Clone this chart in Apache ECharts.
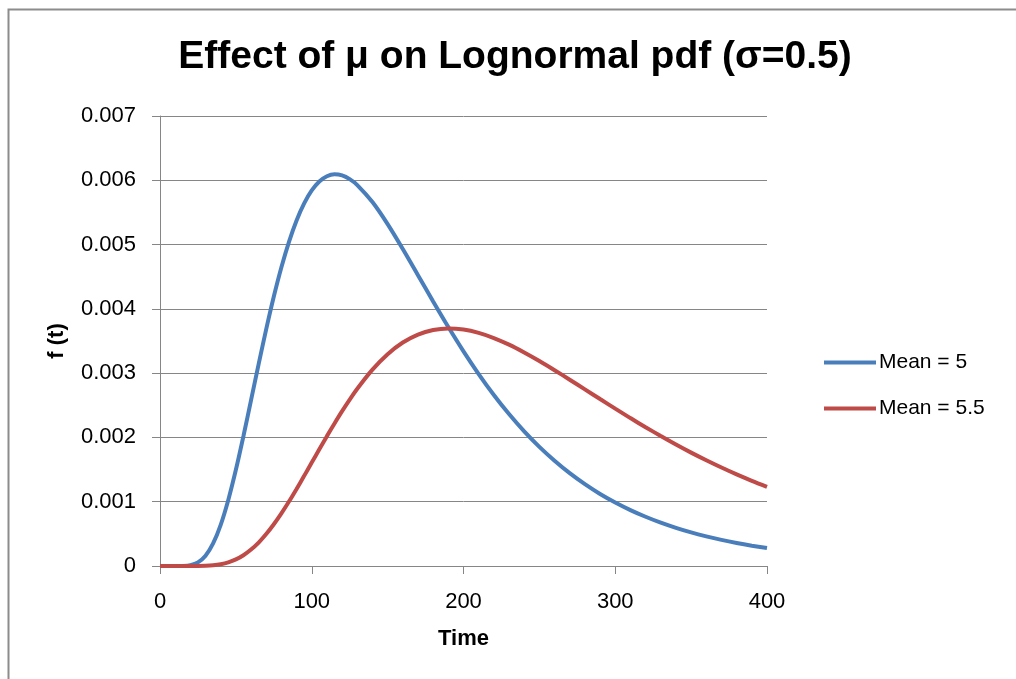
<!DOCTYPE html>
<html>
<head>
<meta charset="utf-8">
<script src="https://cdn.jsdelivr.net/npm/echarts@6/dist/echarts.min.js"></script>
<style>html,body{margin:0;padding:0;background:#fff;}#c{width:1016px;height:679px;}</style>
</head>
<body>
<div id="c"></div>
<script>
var times = [0,5,10,15,20,25,30,35,40,45,50,55,60,65,70,75,80,85,90,95,100,105,110,115,120,125,130,
  140,150,160,170,180,190,200,210,220,230,240,250,260,270,280,290,300,310,320,330,340,350,360,370,380,390,400];
var mean5 = [0,0,0.00000004,0.0000015,0.0000129,0.0000560,0.000160,0.000351,0.000641,0.001028,0.001496,0.002022,0.002579,0.003140,
  0.003684,0.004191,0.004647,0.005043,0.005375,0.005641,0.005842,0.005981,0.006062,0.006092,0.006075,0.006018,0.005926,
  0.005661,0.005318,0.004931,0.004524,0.004115,0.003717,0.003339,
  0.002986,0.002660,0.002363,0.002094,0.001853,0.001637,0.001444,0.001273,0.001121,0.000988,
  0.000870,0.000766,0.000674,0.000594,0.000523,0.000461,0.000406,0.000358,0.000316,0.000279];
var mean55 = [0,0,0,0,0.0000001,0.000001,0.000004,0.0000118,0.0000282,0.0000573,0.000103,0.000168,0.000256,0.000365,
  0.000497,0.000649,0.000819,0.001003,0.001199,0.001402,0.001609,0.001816,0.002020,0.002218,0.002409,0.002589,0.002758,
  0.003055,0.003295,0.003476,0.003600,0.003671,0.003695,0.003678,
  0.003626,0.003546,0.003443,0.003322,0.003189,0.003046,0.002898,0.002748,0.002597,0.002448,
  0.002301,0.002159,0.002022,0.001890,0.001764,0.001645,0.001532,0.001425,0.001325,0.001231];
var seriesNames = ['Mean = 5', 'Mean = 5.5'];
var xTicks = [0, 100, 200, 300, 400];
var yTickLabels = ['0', '0.001', '0.002', '0.003', '0.004', '0.005', '0.006', '0.007'];

var FONT = "'Liberation Sans', Arial, sans-serif";
function pairs(xs, ys) { return xs.map(function (x, i) { return [x, ys[i]]; }); }

var chart = echarts.init(document.getElementById('c'), null, {renderer: 'canvas'});
chart.setOption({
  animation: false,
  backgroundColor: '#fff',
  title: {
    text: 'Effect of μ on Lognormal pdf (σ=0.5)',
    left: 515, top: 38, textAlign: 'center', padding: 0,
    textStyle: {fontFamily: FONT, fontSize: 39, fontWeight: 'bold', color: '#000'}
  },
  graphic: [{
    type: 'rect', left: 6, top: 7, silent: true, z: -1,
    shape: {x: 0, y: 0, width: 1200, height: 900},
    style: {fill: 'none', stroke: '#8c8c8c', lineWidth: 2}
  }],
  legend: {
    orient: 'vertical', left: 824, top: 352, padding: 0,
    itemWidth: 52, itemHeight: 4, itemGap: 25, icon: 'rect',
    textStyle: {fontFamily: FONT, fontSize: 21, color: '#000', padding: [0, 0, 0, -2]},
    data: seriesNames
  },
  grid: {left: 160, right: 249, top: 116, bottom: 113},
  xAxis: {
    type: 'value', min: 0, max: 400, interval: 100,
    name: 'Time', nameLocation: 'middle', nameGap: 62,
    nameTextStyle: {fontFamily: FONT, fontSize: 22, fontWeight: 'bold', color: '#000'},
    axisLine: {show: true, lineStyle: {color: '#868686', width: 1}},
    axisTick: {show: true, inside: false, length: 8, lineStyle: {color: '#868686'}},
    axisLabel: {fontFamily: FONT, fontSize: 22, color: '#000', margin: 25,
      formatter: function (v) { return xTicks.indexOf(v) >= 0 ? String(v) : ''; }},
    splitLine: {show: false}
  },
  yAxis: {
    type: 'value', min: 0, max: 0.007, interval: 0.001,
    name: 'f (t)', nameLocation: 'middle', nameGap: 92, nameRotate: 90,
    nameTextStyle: {fontFamily: FONT, fontSize: 22, fontWeight: 'bold', color: '#000'},
    axisLine: {show: true, lineStyle: {color: '#868686', width: 1}},
    axisTick: {show: true, inside: false, length: 8, lineStyle: {color: '#868686'}},
    axisLabel: {fontFamily: FONT, fontSize: 22, color: '#000', margin: 24,
      formatter: function (v) { var i = Math.round(v / 0.001); return yTickLabels[i] || ''; }},
    splitLine: {show: true, lineStyle: {color: '#868686', width: 1}}
  },
  series: [
    {name: seriesNames[0], type: 'line', data: pairs(times, mean5), smooth: 0.3,
     showSymbol: false, symbol: 'none', lineStyle: {color: '#4A7EBB', width: 4}, itemStyle: {color: '#4A7EBB'}},
    {name: seriesNames[1], type: 'line', data: pairs(times, mean55), smooth: 0.3,
     showSymbol: false, symbol: 'none', lineStyle: {color: '#BE4B48', width: 4}, itemStyle: {color: '#BE4B48'}}
  ]
});
</script>
</body>
</html>
